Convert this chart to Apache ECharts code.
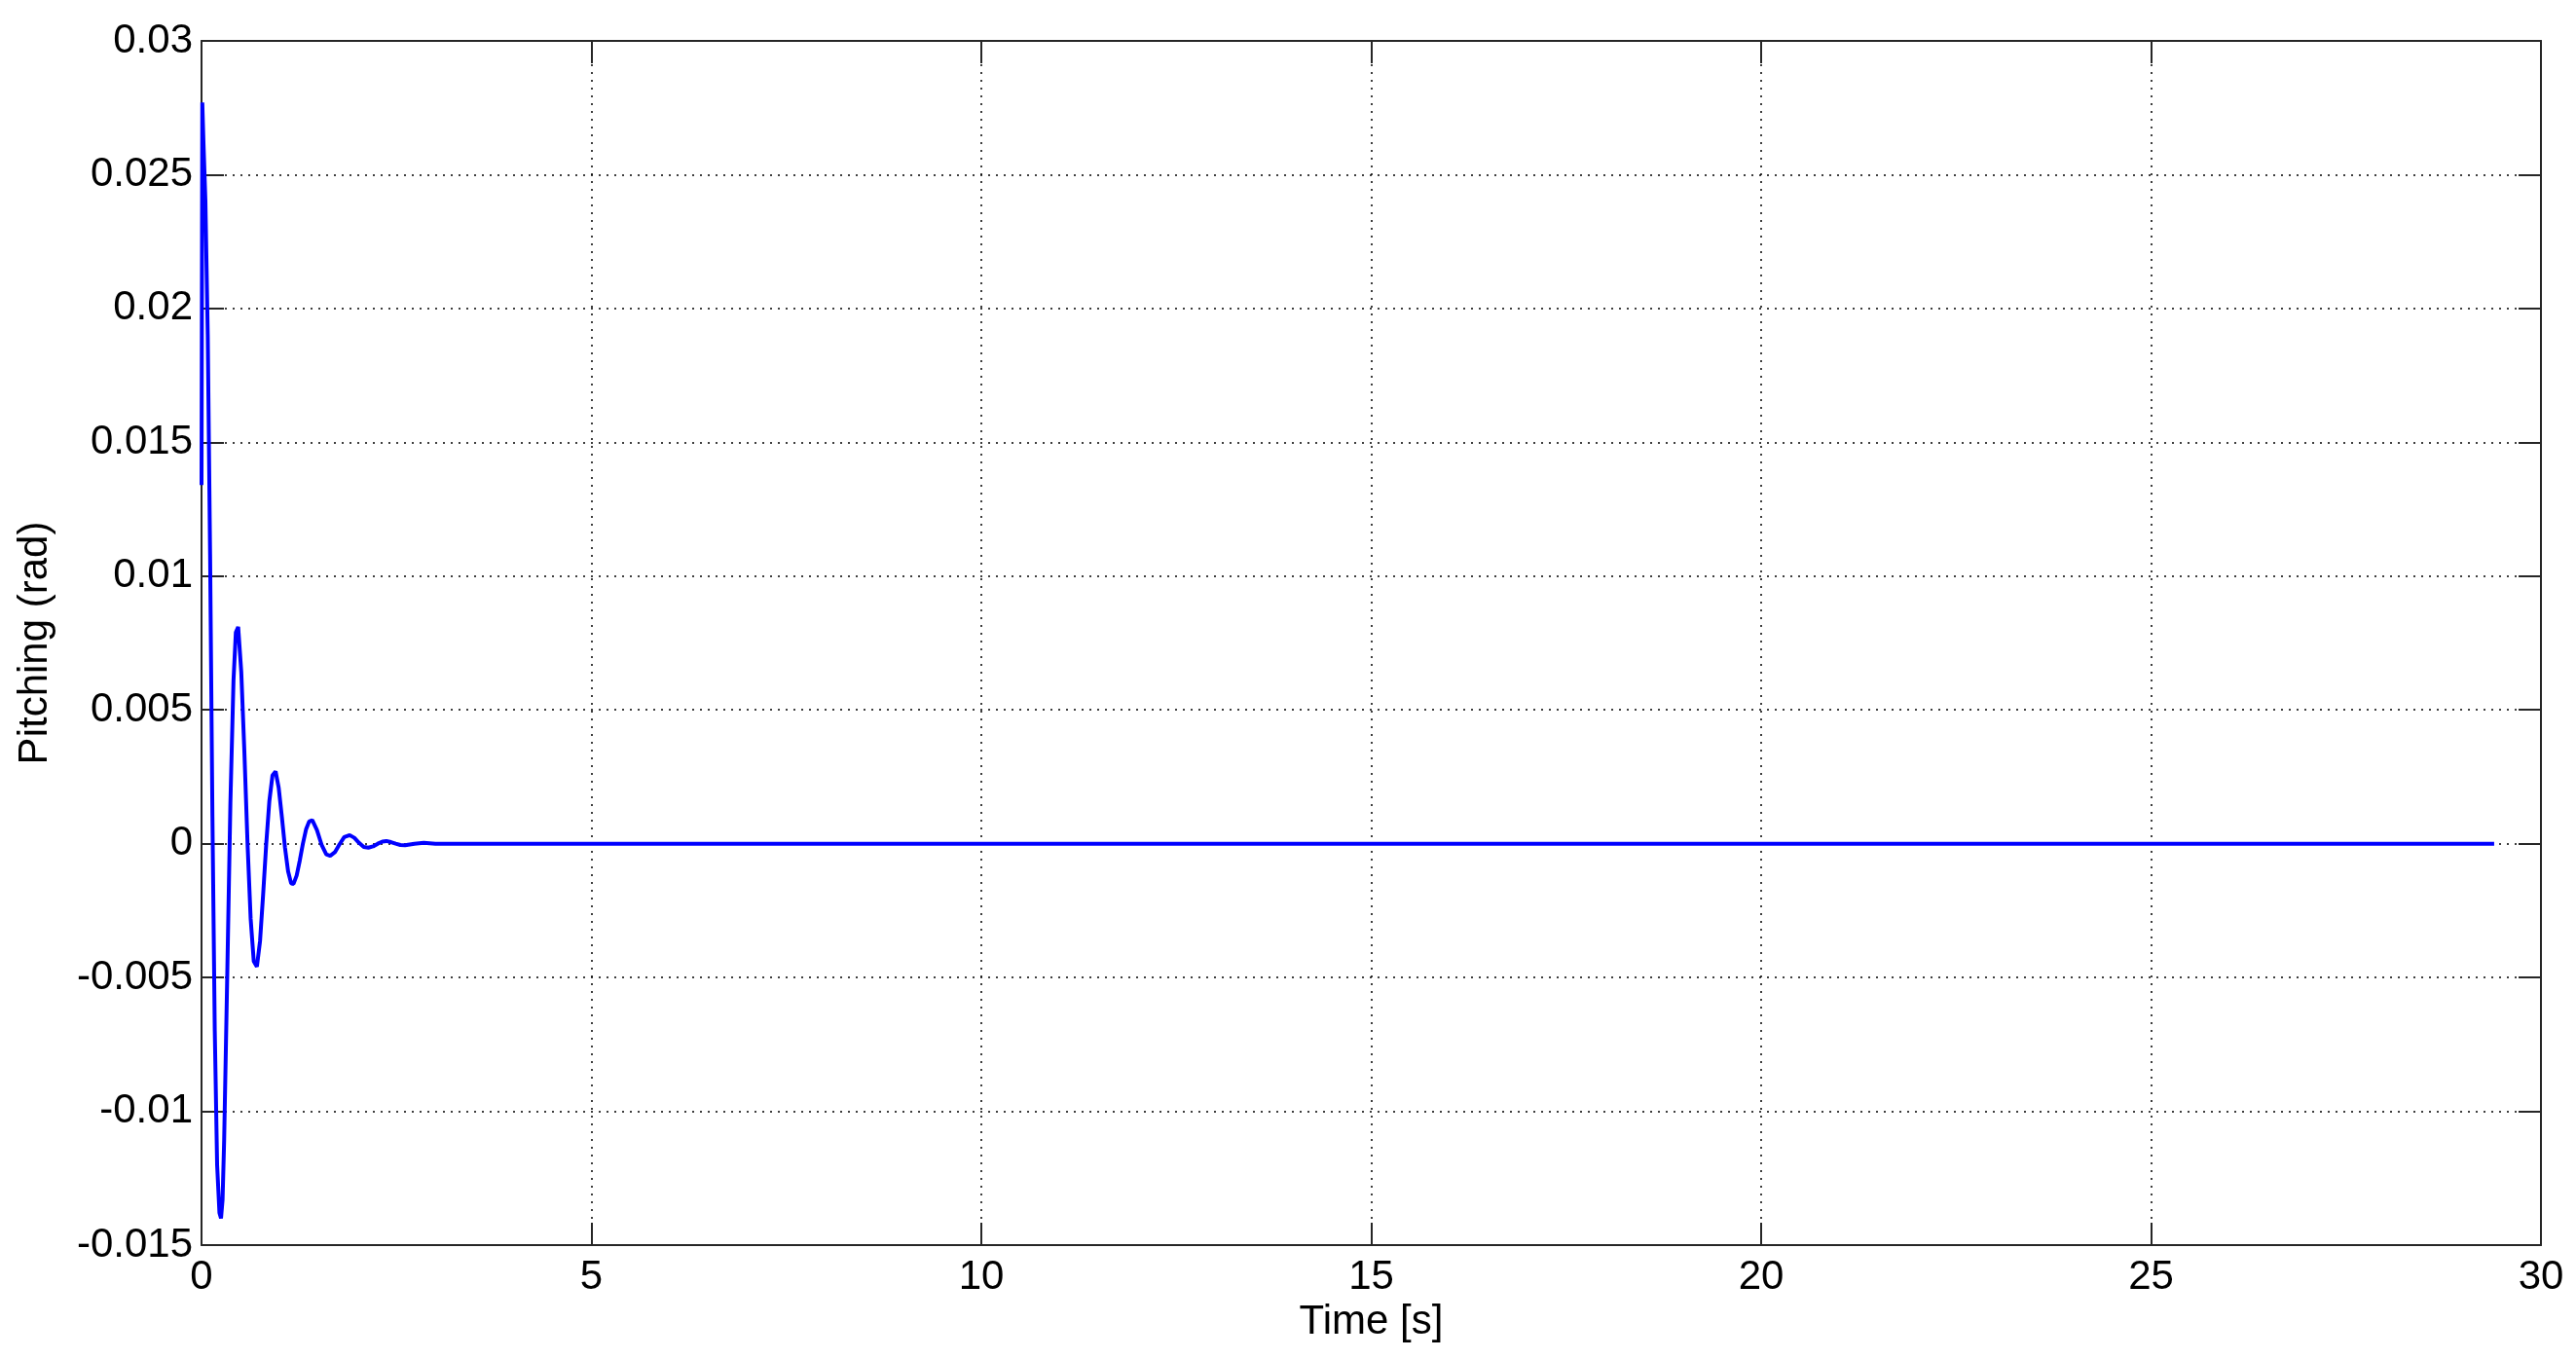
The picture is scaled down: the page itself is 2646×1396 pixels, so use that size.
<!DOCTYPE html>
<html>
<head>
<meta charset="utf-8">
<title>Pitching</title>
<script src="https://cdn.jsdelivr.net/npm/echarts@6/dist/echarts.min.js"></script>
<style>
html, body { margin: 0; padding: 0; background: #fff; }
#chart { width: 2646px; height: 1396px; }
</style>
</head>
<body>
<div id="chart"></div>
<script>
// time [s] and pitching [rad]
var times = [
    0, 0.01, 0.025, 0.05, 0.08, 0.11, 0.14, 0.17, 0.20, 0.23, 0.25, 0.27,
    0.29, 0.33, 0.37, 0.41, 0.44, 0.47,
    0.51, 0.55, 0.59, 0.63, 0.67, 0.71,
    0.75, 0.79, 0.83, 0.87, 0.91, 0.95,
    0.99, 1.03, 1.07, 1.11, 1.15, 1.18,
    1.22, 1.26, 1.30, 1.34, 1.38, 1.42,
    1.48, 1.54, 1.60, 1.65,
    1.71, 1.77, 1.83, 1.90,
    1.96, 2.02, 2.08, 2.14,
    2.20, 2.26, 2.32, 2.37,
    2.43, 2.49, 2.55, 2.61,
    2.73, 2.85, 3.0,
    5, 10, 15, 20, 25, 29.4
];
var pitch = [
    0.0134, 0.0277, 0.0262, 0.0240, 0.0190, 0.0108, 0.0010, -0.0070, -0.0120, -0.0138, -0.0140, -0.0133,
    -0.0111, -0.0049, 0.0015, 0.0061, 0.0079, 0.0081,
    0.0064, 0.0034, 0.0000, -0.0028, -0.0044, -0.0046,
    -0.00365, -0.0019, 0.0000, 0.0016, 0.00255, 0.0027,
    0.00208, 0.00101, -0.00014, -0.00103, -0.00149, -0.0015,
    -0.00119, -0.00063, 0.0000, 0.00053, 0.00083, 0.00088,
    0.00051, -0.00004, -0.0004, -0.00045,
    -0.00032, -0.00002, 0.00025, 0.00032,
    0.00022, 0.00003, -0.00012, -0.00015,
    -0.0001, 0.0000, 0.00008, 0.0001,
    0.00006, 0.0000, -0.00005, -0.00006,
    0.0000, 0.00003, 0.0000,
    0, 0, 0, 0, 0, 0
];
var xTicks = { min: 0, max: 30, interval: 5 };
var yTicks = { min: -0.015, max: 0.03, interval: 0.005 };

var points = times.map(function (t, i) { return [t, pitch[i]]; });

var font = 'Liberation Sans, Arial, sans-serif';
var axisLine = { show: true, onZero: false, lineStyle: { color: '#262626', width: 2 } };
var tick = { show: true, inside: true, length: 23, lineStyle: { color: '#262626', width: 2 } };
var grid_line = { show: true, lineStyle: { color: '#000', width: 1.5, type: [2, 6] } };

var myChart = echarts.init(document.getElementById('chart'));
var option = {
    backgroundColor: '#fff',
    animation: false,
    grid: { left: 207, right: 36, top: 42, bottom: 117, containLabel: false },
    xAxis: [
        {
            type: 'value',
            min: xTicks.min, max: xTicks.max, interval: xTicks.interval,
            name: 'Time [s]',
            nameLocation: 'middle',
            nameGap: 48,
            nameTextStyle: { color: '#000', fontSize: 42, fontFamily: font },
            axisLine: axisLine,
            axisTick: tick,
            splitLine: grid_line,
            axisLabel: { color: '#000', fontSize: 42, fontFamily: font, margin: 12 }
        },
        {
            type: 'value', position: 'top',
            min: xTicks.min, max: xTicks.max, interval: xTicks.interval,
            axisLine: axisLine, axisTick: tick,
            splitLine: { show: false }, axisLabel: { show: false }
        }
    ],
    yAxis: [
        {
            type: 'value',
            min: yTicks.min, max: yTicks.max, interval: yTicks.interval,
            name: 'Pitching (rad)',
            nameLocation: 'middle',
            nameGap: 150,
            nameTextStyle: { color: '#000', fontSize: 42, fontFamily: font },
            axisLine: axisLine,
            axisTick: tick,
            splitLine: grid_line,
            axisLabel: {
                color: '#000', fontSize: 42, fontFamily: font, margin: 9,
                formatter: function (v) { return String(+v.toFixed(3)); }
            }
        },
        {
            type: 'value', position: 'right',
            min: yTicks.min, max: yTicks.max, interval: yTicks.interval,
            axisLine: axisLine, axisTick: tick,
            splitLine: { show: false }, axisLabel: { show: false }
        }
    ],
    series: [
        {
            name: 'Pitching',
            type: 'line',
            data: points,
            showSymbol: false,
            lineStyle: { color: '#0000ff', width: 4 },
            z: 5
        }
    ]
};
myChart.setOption(option);
</script>
</body>
</html>
